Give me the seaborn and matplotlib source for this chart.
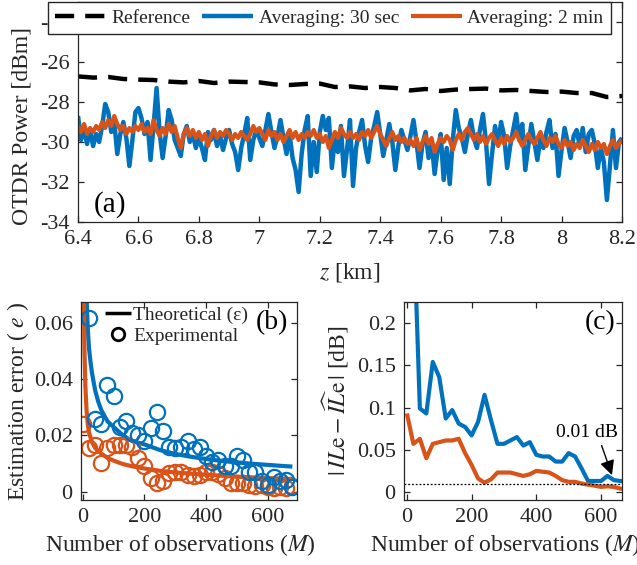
import numpy as np
import pandas as pd
import matplotlib
matplotlib.use("Agg")
import matplotlib.pyplot as plt
import seaborn as sns
from matplotlib.lines import Line2D

# ---------------- data ----------------
# (a) OTDR traces, z grid 6.40 ... 8.20 km (step 0.01 km)
z_km = np.round(np.linspace(6.40, 8.20, 181), 2)

avg30 = [
    -28.7, -29.9, -29.3, -30.1, -29.4, -30.2, -29.6, -30.0, -29.2, -28.1,
    -28.5, -29.5, -29.0, -30.6, -29.6, -29.0, -29.8, -31.2, -29.9, -28.5,
    -28.3, -28.8, -29.6, -29.0, -30.9, -29.2, -27.3, -29.5, -30.8, -29.7,
    -28.4, -28.9, -29.9, -30.3, -30.7, -29.6, -29.2, -30.0, -29.6, -30.3,
    -29.8, -30.3, -30.9, -29.5, -29.9, -29.4, -30.2, -29.7, -30.4, -29.8,
    -29.4, -30.1, -30.5, -31.4, -30.3, -29.6, -28.8, -30.9, -29.9, -29.4,
    -29.8, -30.2, -29.4, -28.6, -29.5, -30.3, -29.7, -28.9, -29.8, -30.6,
    -29.6, -30.8, -31.4, -32.5, -30.6, -29.4, -28.7, -31.7, -30.0, -31.5,
    -29.5, -28.7, -29.4, -28.8, -31.3, -29.8, -30.5, -29.2, -31.7, -30.4,
    -28.9, -32.2, -30.3, -29.5, -28.9, -30.2, -31.0, -29.8, -29.2, -28.5,
    -29.6, -30.7, -29.9, -29.1, -30.0, -31.4, -30.2, -29.4, -29.9, -30.4,
    -29.7, -28.9, -30.0, -31.3, -30.1, -29.5, -30.8, -30.0, -31.6, -30.4,
    -29.6, -31.9, -30.3, -32.1, -29.9, -28.4, -29.3, -29.8, -30.5, -29.6,
    -28.9, -29.8, -30.3, -29.4, -28.6, -30.0, -32.1, -30.6, -29.2, -30.1,
    -29.0, -29.7, -31.3, -30.2, -29.4, -28.6, -29.9, -29.1, -31.4, -30.2,
    -29.1, -30.0, -30.9, -29.8, -30.3, -29.5, -28.9, -30.3, -29.6, -31.7,
    -30.4, -29.3, -30.0, -30.8, -29.7, -29.4, -30.2, -29.3, -30.5, -29.6,
    -29.4, -30.1, -31.3, -30.3, -31.0, -32.9, -31.2, -29.4, -31.3, -30.0,
    -29.8,
]

avg2 = [
    -29.2, -29.5, -29.1, -29.6, -29.3, -29.5, -29.2, -29.4, -29.0, -29.3,
    -28.9, -29.2, -28.7, -29.1, -29.4, -29.2, -29.6, -29.3, -29.5, -29.2,
    -29.4, -29.1, -29.5, -29.3, -29.6, -28.9, -29.4, -29.7, -29.3, -29.6,
    -29.1, -29.5, -29.2, -29.8, -30.3, -29.6, -29.3, -29.7, -29.4, -29.8,
    -29.5, -29.9, -29.6, -30.2, -29.7, -29.4, -29.8, -29.5, -29.7, -29.4,
    -29.6, -29.9, -29.6, -29.8, -29.5, -29.7, -29.9, -29.6, -29.2, -29.5,
    -29.3, -29.6, -29.9, -29.4, -29.7, -29.5, -29.9, -29.6, -30.0, -29.7,
    -29.4, -29.8, -29.5, -29.9, -29.6, -29.8, -29.5, -29.7, -29.4, -29.8,
    -29.6, -30.0, -29.7, -30.3, -29.9, -29.5, -29.8, -29.3, -29.6, -29.8,
    -29.5, -29.8, -29.6, -29.9, -29.5, -29.7, -29.4, -29.8, -29.5, -29.2,
    -29.6, -29.9, -30.2, -29.8, -29.5, -29.9, -29.7, -30.0, -29.8, -30.1,
    -29.9, -30.2, -29.8, -30.4, -30.0, -29.7, -30.1, -29.8, -30.5, -30.1,
    -29.8, -30.0, -29.7, -29.9, -30.4, -29.9, -29.6, -29.9, -29.5, -29.3,
    -29.6, -29.9, -29.6, -30.0, -29.7, -30.1, -29.8, -29.6, -29.9, -30.2,
    -29.8, -30.1, -29.7, -30.0, -29.8, -29.5, -29.9, -30.2, -29.9, -29.6,
    -29.9, -30.1, -29.8, -29.5, -29.9, -30.2, -29.8, -30.0, -29.7, -30.1,
    -30.3, -29.9, -30.2, -30.0, -30.4, -30.1, -30.3, -29.9, -30.2, -30.5,
    -30.1, -30.4, -30.0, -30.3, -30.1, -30.6, -30.2, -29.9, -30.3, -30.1,
    -29.9,
]

z_ref = [6.40, 6.45, 6.50, 6.55, 6.60, 6.65, 6.70, 6.75, 6.80, 6.85,
         6.90, 6.95, 7.00, 7.05, 7.10, 7.15, 7.20, 7.25, 7.30, 7.35,
         7.40, 7.45, 7.50, 7.55, 7.60, 7.65, 7.70, 7.75, 7.80, 7.85,
         7.90, 7.95, 8.00, 8.05, 8.10, 8.15, 8.20]
p_ref = [-26.72, -26.78, -26.75, -26.85, -26.88, -26.90, -26.98, -27.02, -26.95, -27.05,
         -26.98, -27.00, -27.02, -27.12, -27.15, -27.10, -27.08, -27.25, -27.22, -27.30,
         -27.25, -27.30, -27.42, -27.35, -27.45, -27.38, -27.35, -27.33, -27.42, -27.40,
         -27.45, -27.50, -27.48, -27.55, -27.55, -27.75, -27.70]

# (b) estimation error
M_theo_30 = [10, 13, 16, 20, 25, 30, 40, 50, 60, 80, 100, 130, 160, 200, 250,
             300, 350, 400, 450, 500, 550, 600, 650, 680]
eps_30 = [0.075, 0.066, 0.058, 0.051, 0.046, 0.042, 0.036, 0.032, 0.029, 0.025,
          0.023, 0.020, 0.018, 0.0168, 0.0148, 0.0134, 0.0124, 0.0116, 0.0109,
          0.0104, 0.0099, 0.0095, 0.0091, 0.0089]
M_theo_2 = [3, 5, 8, 12, 16, 20, 30, 40, 60, 80, 100, 130, 160, 200, 250, 300,
            400, 500, 600, 680]
eps_2 = [0.075, 0.052, 0.038, 0.029, 0.024, 0.021, 0.0175, 0.0155, 0.0135, 0.012,
         0.011, 0.0098, 0.009, 0.0082, 0.0074, 0.0068, 0.006, 0.0053, 0.0048, 0.0045]

M_exp_30 = [20, 40, 60, 80, 100, 120, 140, 160, 180, 200, 220, 240, 260, 280, 300,
            320, 340, 360, 380, 400, 420, 440, 460, 480, 500, 520, 540, 560, 580,
            600, 620, 640, 660, 680]
e_exp_30 = [0.0618, 0.026, 0.024, 0.038, 0.034, 0.023, 0.025, 0.021, 0.020, 0.018,
            0.0225, 0.0285, 0.0214, 0.016, 0.0155, 0.016, 0.018, 0.015, 0.016, 0.0125,
            0.0107, 0.0113, 0.009, 0.009, 0.0125, 0.0113, 0.007, 0.007, 0.0036, 0.0024,
            0.0053, 0.0036, 0.004, 0.0018]
M_exp_2 = [0, 20, 40, 60, 80, 100, 120, 140, 160, 180, 200, 220, 240, 260, 280, 300,
           320, 340, 360, 380, 400, 420, 440, 460, 480, 500, 520, 540, 560, 580,
           600, 620, 640, 660, 680]
e_exp_2 = [0.024, 0.0155, 0.0166, 0.010, 0.0155, 0.0166, 0.0166, 0.0166, 0.016, 0.012,
           0.009, 0.0048, 0.0032, 0.0036, 0.0065, 0.0068, 0.0068, 0.006, 0.0056, 0.006,
           0.0071, 0.0068, 0.0062, 0.0048, 0.0032, 0.003, 0.003, 0.0024, 0.002, 0.0024,
           0.0018, 0.0012, 0.0018, 0.0012, 0.002]

# (c) insertion-loss error
M_c = [0, 20, 40, 60, 80, 100, 120, 140, 160, 180, 200, 220, 240, 260, 280, 300,
       320, 340, 360, 380, 400, 420, 440, 460, 480, 500, 520, 540, 560, 580,
       600, 620, 640, 660, 680]
il_30 = [0.45, 0.33, 0.099, 0.093, 0.154, 0.136, 0.087, 0.097, 0.081, 0.077,
         0.067, 0.083, 0.115, 0.085, 0.057, 0.057, 0.061, 0.065, 0.055, 0.059,
         0.044, 0.042, 0.042, 0.036, 0.036, 0.046, 0.042, 0.028, 0.013, 0.013,
         0.013, 0.019, 0.014, 0.013, 0.012]
il_2 = [0.093, 0.057, 0.063, 0.040, 0.057, 0.059, 0.061, 0.061, 0.063, 0.046,
        0.032, 0.016, 0.011, 0.015, 0.023, 0.023, 0.023, 0.021, 0.019, 0.021,
        0.025, 0.024, 0.023, 0.019, 0.014, 0.012, 0.012, 0.010, 0.0087, 0.0075,
        0.006, 0.0067, 0.006, 0.004, 0.003]
il_threshold = 0.01

labels_a = ["Reference", "Averaging: 30 sec", "Averaging: 2 min"]

# ---------------- style ----------------
BLUE = "#0072BD"
ORANGE = "#D95319"
EDGE = "#262626"

sns.set_theme(style="ticks")
plt.rcParams.update({
    "font.family": ["Liberation Serif", "DejaVu Serif"],
    "mathtext.fontset": "stix",
    "axes.unicode_minus": False,
    "xtick.direction": "in", "ytick.direction": "in",
    "xtick.top": True, "ytick.right": True,
    "xtick.major.size": 4, "ytick.major.size": 4,
    "xtick.major.width": 0.9, "ytick.major.width": 0.9,
    "axes.linewidth": 0.9,
    "axes.edgecolor": EDGE,
    "xtick.color": EDGE, "ytick.color": EDGE,
    "xtick.labelcolor": EDGE, "ytick.labelcolor": EDGE,
    "xtick.labelsize": 16, "ytick.labelsize": 16,
    "xtick.major.pad": 6, "ytick.major.pad": 6,
    "axes.labelsize": 17,
    "axes.labelcolor": EDGE,
    "lines.solid_capstyle": "butt",
})

W, H = 637, 565
fig = plt.figure(figsize=(W / 100, H / 100), dpi=100)

def rect(l, t, r, b):
    return [l / W, 1 - b / H, (r - l) / W, (b - t) / H]

ax_a = fig.add_axes(rect(78, 2, 622, 222))
ax_b = fig.add_axes(rect(81, 302, 297, 500))
ax_c = fig.add_axes(rect(404, 302, 622, 500))

for ax in (ax_a, ax_b, ax_c):
    ax.set_facecolor("white")

# ---------------- (a) ----------------
df_a = pd.DataFrame({"z": z_km, "p30": avg30, "p2": avg2})
df_ref = pd.DataFrame({"z": z_ref, "p": p_ref})

sns.lineplot(data=df_ref, x="z", y="p", ax=ax_a, color="black", lw=3.2,
             linestyle=(0, (4.3, 2.5)), label=labels_a[0])
sns.lineplot(data=df_a, x="z", y="p30", ax=ax_a, color=BLUE, lw=3.2,
             label=labels_a[1])
sns.lineplot(data=df_a, x="z", y="p2", ax=ax_a, color=ORANGE, lw=3.0,
             label=labels_a[2])
handles, labs = ax_a.get_legend_handles_labels()
ax_a.get_legend().remove()

ax_a.set_xlim(6.4, 8.2)
ax_a.set_ylim(-34, -23)
ax_a.set_xticks(np.round(np.arange(6.4, 8.21, 0.2), 1))
ax_a.set_xticklabels([f"{v:g}" for v in np.round(np.arange(6.4, 8.21, 0.2), 1)])
ax_a.set_yticks([-34, -32, -30, -28, -26, -24])
ax_a.set_xlabel(r"$z$ [km]")
ax_a.set_ylabel("OTDR Power [dBm]")
ax_a.xaxis.set_label_coords((350 - 78) / 544, -(272 - 222) / 220)
ax_a.xaxis.label.set_va("center")
ax_a.yaxis.set_label_coords((22 - 78) / 544, (222 - 126) / 220)
ax_a.yaxis.label.set_va("center")
ax_a.text((110 - 78) / 544, (222 - 205) / 220, "(a)", transform=ax_a.transAxes,
          fontsize=21, ha="center", va="center", color="black")

fig.legend(handles, labs, ncol=3, loc="upper left",
           bbox_to_anchor=(48 / W, 1 - 2 / H), bbox_transform=fig.transFigure,
           frameon=True, fancybox=False, framealpha=1, edgecolor=EDGE,
           fontsize=14, handlelength=2.6, handletextpad=0.3,
           columnspacing=0.6, borderpad=0.38, borderaxespad=0)

# ---------------- (b) ----------------
sns.lineplot(x=M_theo_30, y=eps_30, ax=ax_b, color=BLUE, lw=3.0)
sns.lineplot(x=M_theo_2, y=eps_2, ax=ax_b, color=ORANGE, lw=3.0)
sns.lineplot(x=M_exp_2, y=e_exp_2, ax=ax_b, linestyle="", marker="o",
             markersize=11, markerfacecolor="none", markeredgecolor=ORANGE,
             markeredgewidth=1.6, color=ORANGE)
sns.lineplot(x=M_exp_30, y=e_exp_30, ax=ax_b, linestyle="", marker="o",
             markersize=11, markerfacecolor="none", markeredgecolor=BLUE,
             markeredgewidth=1.6, color=BLUE)

ax_b.set_xlim(-6, 695)
ax_b.set_ylim(-0.003, 0.0675)
ax_b.set_xticks([0, 200, 400, 600])
ax_b.set_yticks([0, 0.02, 0.04, 0.06])
ax_b.set_yticklabels(["0", "0.02", "0.04", "0.06"])
ax_b.set_xlabel(r"Number of observations ($M$)")
ax_b.set_ylabel(r"Estimation error ( $e$ )")
ax_b.xaxis.set_label_coords(0.5 + (180 - 189) / 216, -(545 - 500) / 198)
ax_b.xaxis.label.set_va("center")
ax_b.yaxis.set_label_coords((18 - 81) / 216, 0.5)
ax_b.yaxis.label.set_va("center")
ax_b.text((272 - 81) / 216, (500 - 323) / 198, "(b)", transform=ax_b.transAxes,
          fontsize=20, ha="center", va="center", color="black")

leg_handles = [
    Line2D([], [], color="black", lw=2.5),
    Line2D([], [], color="black", linestyle="", marker="o", markersize=9,
           markerfacecolor="none", markeredgewidth=2.0),
]
ax_b.legend(leg_handles, ["Theoretical (ε)", "Experimental"], loc="upper left",
            bbox_to_anchor=((105 - 81) / 216, (500 - 306) / 198),
            frameon=False, fontsize=14, handlelength=1.35, handletextpad=0.1,
            borderpad=0, borderaxespad=0, labelspacing=0.2)

# ---------------- (c) ----------------
sns.lineplot(x=M_c, y=il_30, ax=ax_c, color=BLUE, lw=3.0)
sns.lineplot(x=M_c, y=il_2, ax=ax_c, color=ORANGE, lw=3.0)
ax_c.axhline(il_threshold, color="black", lw=0.9, linestyle=(0, (1.5, 1.5)))

ax_c.set_xlim(-9, 665)
ax_c.set_ylim(-0.0095, 0.225)
ax_c.set_xticks([0, 200, 400, 600])
ax_c.set_yticks([0, 0.05, 0.1, 0.15, 0.2])
ax_c.set_yticklabels(["0", "0.05", "0.1", "0.15", "0.2"])
ax_c.set_xlabel(r"Number of observations ($M$)")
ax_c.set_ylabel(r"$|\,\mathit{IL}\mathrm{e} - \widehat{\mathit{IL}}\mathrm{e}\,|$ [dB]")
ax_c.xaxis.set_label_coords(0.5 + (505 - 513) / 218, -(545 - 500) / 198)
ax_c.xaxis.label.set_va("center")
ax_c.yaxis.set_label_coords((336 - 404) / 218, 0.5)
ax_c.yaxis.label.set_va("center")
ax_c.text((600 - 404) / 218, (500 - 323) / 198, "(c)", transform=ax_c.transAxes,
          fontsize=20, ha="center", va="center", color="black")

ax_c.text(557, 0.070, "0.01 dB", fontsize=14, ha="center", va="center", color="black")
ax_c.annotate("", xy=(634, 0.020), xytext=(602, 0.055),
              arrowprops=dict(arrowstyle="-|>", color="black", lw=1.0,
                              mutation_scale=22, shrinkA=0, shrinkB=0))

fig.savefig("out.png", dpi=100, facecolor="white")
